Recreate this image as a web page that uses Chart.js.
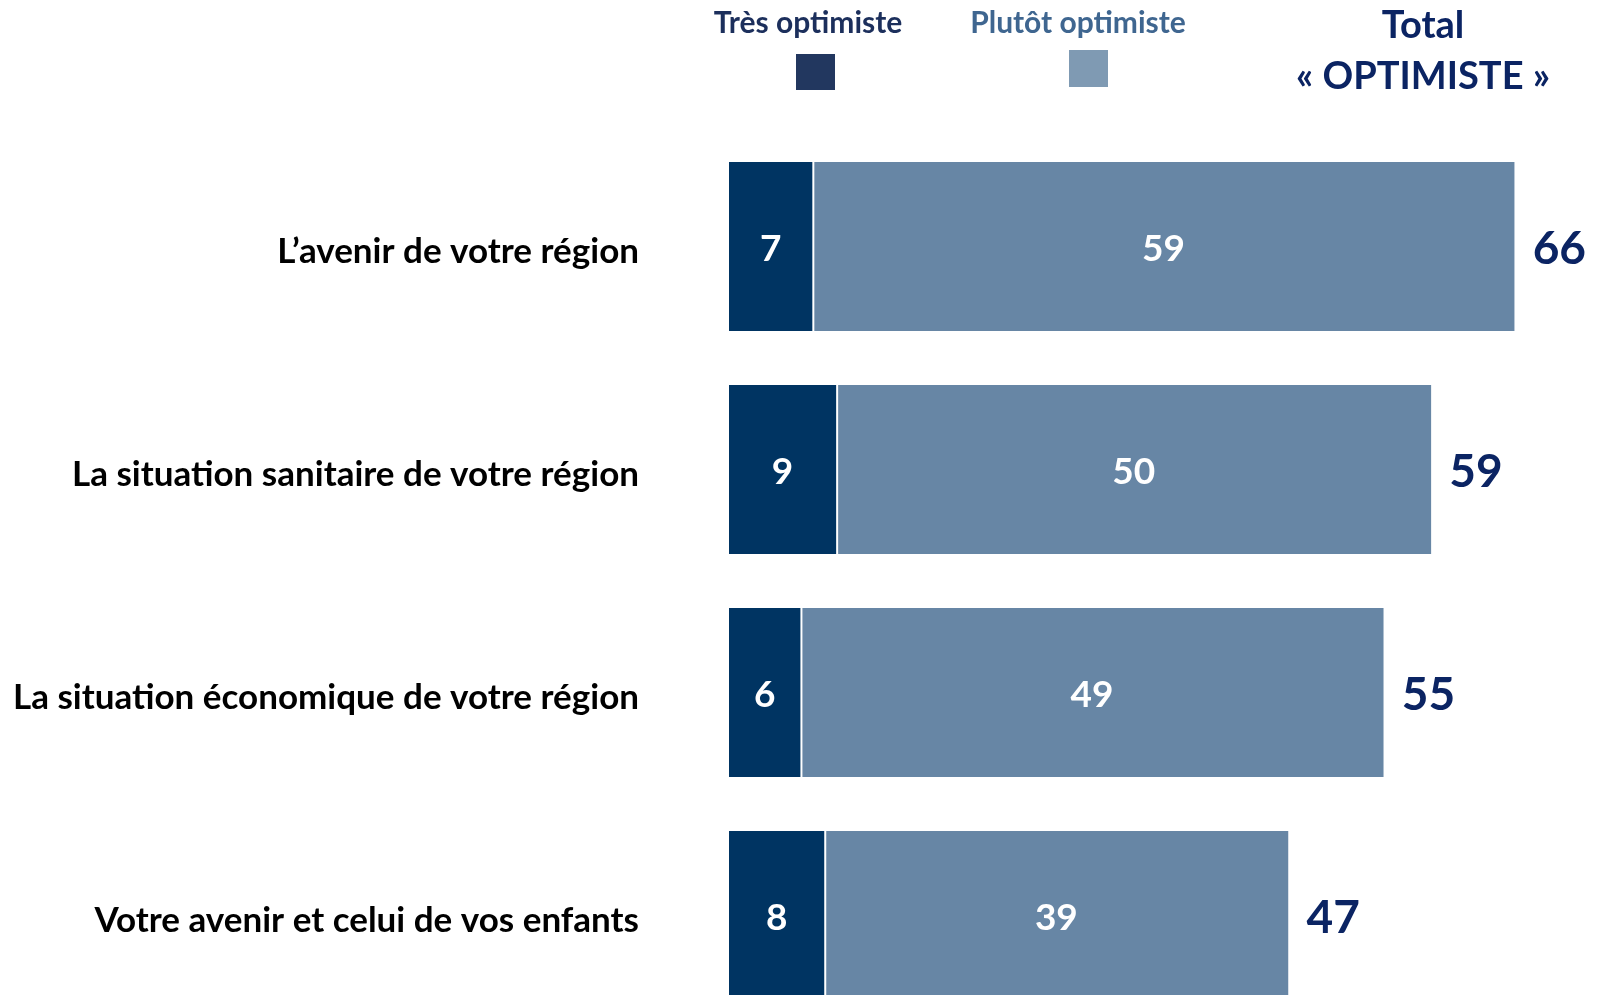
<!DOCTYPE html>
<html>
<head>
<meta charset="utf-8">
<script src="https://cdn.jsdelivr.net/npm/chart.js@4.4.0/dist/chart.umd.min.js"></script>
<style>
  html, body { margin: 0; padding: 0; background: #fff; overflow: hidden; }
  #wrap { width: 1598px; height: 1040px; position: relative; }
</style>
</head>
<body>
<div id="wrap"><canvas id="chart" width="1598" height="1040"></canvas></div>
<script>
const categories = [
    "L’avenir de votre région",
    "La situation sanitaire de votre région",
    "La situation économique de votre région",
    "Votre avenir et celui de vos enfants"
];
const tresOptimiste = [7, 9, 6, 8];
const plutotOptimiste = [59, 50, 49, 39];
const totalOptimiste = [66, 59, 55, 47];

const seriesNames = ["Très optimiste", "Plutôt optimiste"];
const totalTitle = ["Total", "« OPTIMISTE »"];

const FONT = "Lato, 'Open Sans', sans-serif";
const DARK = "#003462";
const LIGHT = "#6786a5";

// labels, valeurs et légende dessinés à la main
const drawTexts = {
    id: 'drawTexts',
    afterDatasetsDraw(chart) {
        const ctx = chart.ctx;
        const yScale = chart.scales.y;
        ctx.save();

        // libellés des catégories
        ctx.fillStyle = "#000000";
        ctx.font = "bold 35px " + FONT;
        ctx.textAlign = "right";
        ctx.textBaseline = "middle";
        categories.forEach((c, i) => {
            ctx.fillText(c, 639, yScale.getPixelForValue(i) + 5);
        });

        // valeurs dans les barres
        ctx.fillStyle = "#ffffff";
        ctx.font = "bold 37px " + FONT;
        ctx.textAlign = "center";
        chart.data.datasets.forEach((ds, di) => {
            const meta = chart.getDatasetMeta(di);
            meta.data.forEach((bar, i) => {
                ctx.fillText(ds.data[i], (bar.x + bar.base) / 2, bar.y + 3);
            });
        });

        // totaux
        const last = chart.getDatasetMeta(chart.data.datasets.length - 1);
        ctx.fillStyle = "#0b2463";
        ctx.font = "bold 46px " + FONT;
        ctx.textAlign = "left";
        last.data.forEach((bar, i) => {
            ctx.fillText(totalOptimiste[i], bar.x + 18, bar.y + 3);
        });

        // légende
        ctx.textAlign = "center";
        ctx.font = "bold 30px " + FONT;
        ctx.fillStyle = "#1c2f5c";
        ctx.fillText(seriesNames[0], 808, 23);
        ctx.fillStyle = "#3f6690";
        ctx.fillText(seriesNames[1], 1078, 23);
        ctx.fillStyle = "#22375f";
        ctx.fillRect(796, 54, 39, 36);
        ctx.fillStyle = "#7f9ab3";
        ctx.fillRect(1069, 50, 39, 37);

        ctx.fillStyle = "#0b2463";
        ctx.font = "bold 38px " + FONT;
        ctx.fillText(totalTitle[0], 1423, 26);
        ctx.fillText(totalTitle[1], 1423, 77);

        ctx.restore();
    }
};

const ctx = document.getElementById('chart').getContext('2d');
new Chart(ctx, {
    type: 'bar',
    data: {
        labels: categories,
        datasets: [
            {
                label: seriesNames[0],
                data: tresOptimiste,
                backgroundColor: DARK,
                borderWidth: 0,
                barPercentage: 0.758,
                categoryPercentage: 1
            },
            {
                label: seriesNames[1],
                data: plutotOptimiste,
                backgroundColor: LIGHT,
                borderColor: "#ffffff",
                borderWidth: { left: 2, right: 0, top: 0, bottom: 0 },
                borderSkipped: false,
                barPercentage: 0.758,
                categoryPercentage: 1
            }
        ]
    },
    options: {
        indexAxis: 'y',
        responsive: false,
        animation: false,
        layout: { padding: { left: 729, right: 0, top: 135, bottom: 13 } },
        scales: {
            x: { stacked: true, min: 0, max: 73, display: false },
            y: { stacked: true, display: false }
        },
        plugins: {
            legend: { display: false },
            tooltip: { enabled: false }
        }
    },
    plugins: [drawTexts]
});
</script>
</body>
</html>
